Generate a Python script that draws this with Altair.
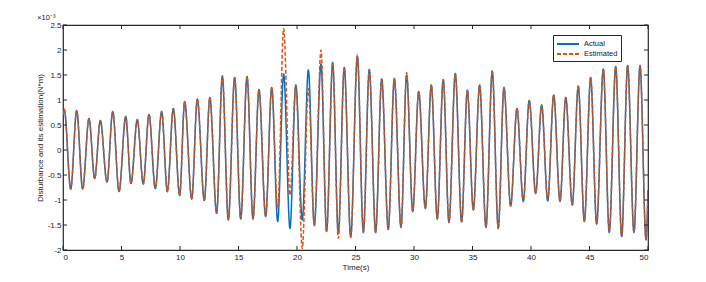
import altair as alt
import pandas as pd

# extrema times (s) and values (x10^-3 N*m)
t_ext = [0.0, 0.11, 0.66, 1.17, 1.68, 2.22, 2.71, 3.19, 3.76, 4.25, 4.79, 5.36, 5.81, 6.35, 6.86,
         7.35, 7.89, 8.43, 8.92, 9.43, 9.97, 10.40, 11.00, 11.48, 12.08, 12.55, 13.13, 13.62, 14.13,
         14.67, 15.19, 15.73, 16.24, 16.75, 17.32, 17.84, 18.35, 18.86, 19.40, 19.90, 20.45, 20.97,
         21.48, 22.05, 22.53, 23.05, 23.53, 24.04, 24.59, 25.16, 25.67, 26.18, 26.72, 27.24, 27.80,
         28.32, 28.89, 29.37, 29.89, 30.40, 30.97, 31.48, 31.99, 32.50, 32.99, 33.53, 34.07, 34.56,
         35.07, 35.61, 36.15, 36.69, 37.20, 37.69, 38.26, 38.80, 39.34, 39.85, 40.40, 40.91, 41.43,
         41.94, 42.48, 42.97, 43.53, 44.04, 44.56, 45.10, 45.61, 46.18, 46.69, 47.24, 47.75, 48.26,
         48.80, 49.32, 49.83, 50.0]

actual = [0.70, 0.80, -0.78, 0.79, -0.78, 0.63, -0.57, 0.59, -0.64, 0.77, -0.83, 0.67, -0.67, 0.61,
          -0.68, 0.71, -0.77, 0.77, -0.83, 0.83, -0.91, 0.97, -0.98, 1.02, -1.01, 1.05, -1.27, 1.47,
          -1.40, 1.45, -1.38, 1.47, -1.38, 1.21, -1.33, 1.25, -1.43, 1.52, -1.57, 1.30, -1.40, 1.60,
          -1.51, 1.72, -1.63, 1.75, -1.67, 1.65, -1.74, 1.87, -1.65, 1.61, -1.65, 1.42, -1.59, 1.43,
          -1.55, 1.50, -1.23, 1.17, -1.17, 1.30, -1.38, 1.41, -1.45, 1.53, -1.44, 1.20, -1.20, 1.30,
          -1.55, 1.58, -1.57, 1.25, -1.12, 0.83, -1.03, 0.99, -0.87, 0.90, -1.02, 1.10, -1.03, 1.05,
          -1.10, 1.28, -1.43, 1.45, -1.48, 1.62, -1.65, 1.67, -1.73, 1.69, -1.65, 1.69, -1.80, -0.80]

estimated = [0.70, 0.82, -0.78, 0.79, -0.78, 0.63, -0.57, 0.59, -0.64, 0.77, -0.83, 0.67, -0.67, 0.61,
             -0.68, 0.71, -0.77, 0.77, -0.83, 0.83, -0.91, 0.97, -0.98, 1.02, -1.01, 1.05, -1.27, 1.49,
             -1.40, 1.45, -1.38, 1.47, -1.38, 1.21, -1.33, 1.25, -1.17, 2.43, -0.90, 1.30, -1.97, 1.23,
             -1.51, 2.00, -1.63, 1.75, -1.77, 1.65, -1.75, 1.90, -1.65, 1.61, -1.65, 1.42, -1.59, 1.43,
             -1.55, 1.55, -1.23, 1.17, -1.17, 1.30, -1.38, 1.41, -1.45, 1.53, -1.44, 1.20, -1.20, 1.30,
             -1.55, 1.58, -1.57, 1.25, -1.12, 0.83, -1.03, 0.99, -0.87, 0.90, -1.00, 1.10, -1.03, 1.05,
             -1.10, 1.28, -1.43, 1.45, -1.48, 1.62, -1.65, 1.67, -1.73, 1.69, -1.65, 1.69, -1.78, -0.80]

series_names = ["Actual", "Estimated"]
series_colors = ["#0072BD", "#D95319"]
x_ticks = [0, 5, 10, 15, 20, 25, 30, 35, 40, 45, 50]
y_ticks = [-2, -1.5, -1, -0.5, 0, 0.5, 1, 1.5, 2, 2.5]

rows = []
for t, a in zip(t_ext, actual):
    rows.append({"t": t, "v": a, "series": "Actual"})
for t, e in zip(t_ext, estimated):
    rows.append({"t": t, "v": e, "series": "Estimated"})
df = pd.DataFrame(rows)
df_xt = pd.DataFrame({"t": x_ticks})
df_yt = pd.DataFrame({"v": y_ticks})

FONT = "Liberation Sans"
TXT = "#1a1a1a"
AX = "#262626"
W, H = 585, 225
TL = 4  # tick length

xs = alt.Scale(domain=[0, 50], nice=False, zero=False)
ys = alt.Scale(domain=[-2, 2.5], nice=False, zero=False)

legend = alt.Legend(title=None, orient="none", legendX=490, legendY=10, direction="vertical",
                    symbolType="M-1,0H3.4", symbolSize=100, symbolStrokeWidth=1.8,
                    symbolFillColor="transparent",
                    labelFont=FONT, labelFontSize=7.5, labelColor=TXT, labelOffset=16,
                    padding=3, strokeColor=AX, fillColor="white", rowPadding=0)
color = alt.Color("series:N", scale=alt.Scale(domain=series_names, range=series_colors), legend=legend)
dash = alt.StrokeDash("series:N", scale=alt.Scale(domain=series_names, range=[[1, 0], [4, 2]]),
                      legend=legend)

ax_bottom = alt.Axis(orient="bottom", values=x_ticks, ticks=False, domain=False, grid=False,
                     labelFont=FONT, labelFontSize=8, labelColor=TXT, labelPadding=3,
                     labelOverlap=False,
                     title="Time(s)", titleFont=FONT, titleFontSize=8, titleFontWeight="normal",
                     titleColor=TXT, titlePadding=2)
ay_left = alt.Axis(orient="left", values=y_ticks, ticks=False, domain=False, grid=False,
                   labelFont=FONT, labelFontSize=8, labelColor=TXT, labelPadding=2,
                   labelOverlap=False, labelExpr="toString(datum.value)",
                   title="Disturbance and its estimation(N*m)", titleFont=FONT, titleFontSize=8,
                   titleFontWeight="normal", titleColor=TXT, titlePadding=3)

base = alt.Chart(df)

act = base.transform_filter(alt.datum.series == "Actual").mark_line(
    strokeWidth=1.5, interpolate="monotone", clip=True).encode(
    x=alt.X("t:Q", scale=xs, axis=ax_bottom),
    y=alt.Y("v:Q", scale=ys, axis=ay_left),
    color=color, strokeDash=dash, order="t:Q")

est = base.transform_filter(alt.datum.series == "Estimated").mark_line(
    strokeWidth=1.5, interpolate="monotone", clip=True).encode(
    x=alt.X("t:Q", scale=xs, axis=ax_bottom),
    y=alt.Y("v:Q", scale=ys, axis=ay_left),
    color=color, strokeDash=dash, order="t:Q")

# inward tick marks on all four sides of the box, placed by the scales
xt = alt.Chart(df_xt)
yt = alt.Chart(df_yt)
tick_style = dict(color=AX, strokeWidth=1)
t_bot = xt.mark_rule(**tick_style).encode(x=alt.X("t:Q", scale=xs, axis=ax_bottom),
                                          y=alt.value(H), y2=alt.value(H - TL))
t_top = xt.mark_rule(**tick_style).encode(x=alt.X("t:Q", scale=xs, axis=ax_bottom),
                                          y=alt.value(0), y2=alt.value(TL))
t_lft = yt.mark_rule(**tick_style).encode(y=alt.Y("v:Q", scale=ys, axis=ay_left),
                                          x=alt.value(0), x2=alt.value(TL))
t_rgt = yt.mark_rule(**tick_style).encode(y=alt.Y("v:Q", scale=ys, axis=ay_left),
                                          x=alt.value(W), x2=alt.value(W - TL))

chart = alt.layer(act, est, t_bot, t_top, t_lft, t_rgt).properties(
    width=W, height=H,
    title=alt.TitleParams("×10⁻³", anchor="start", font=FONT, fontSize=7.5, fontWeight="normal",
                          color=TXT, offset=0, dx=1),
    autosize=alt.AutoSizeParams(type="none"),
    padding={"left": 55, "top": 17, "right": 50, "bottom": 24},
).configure_view(stroke=AX, strokeWidth=1.2)

chart.save("out.html", embed_options={"renderer": "svg", "actions": False})
